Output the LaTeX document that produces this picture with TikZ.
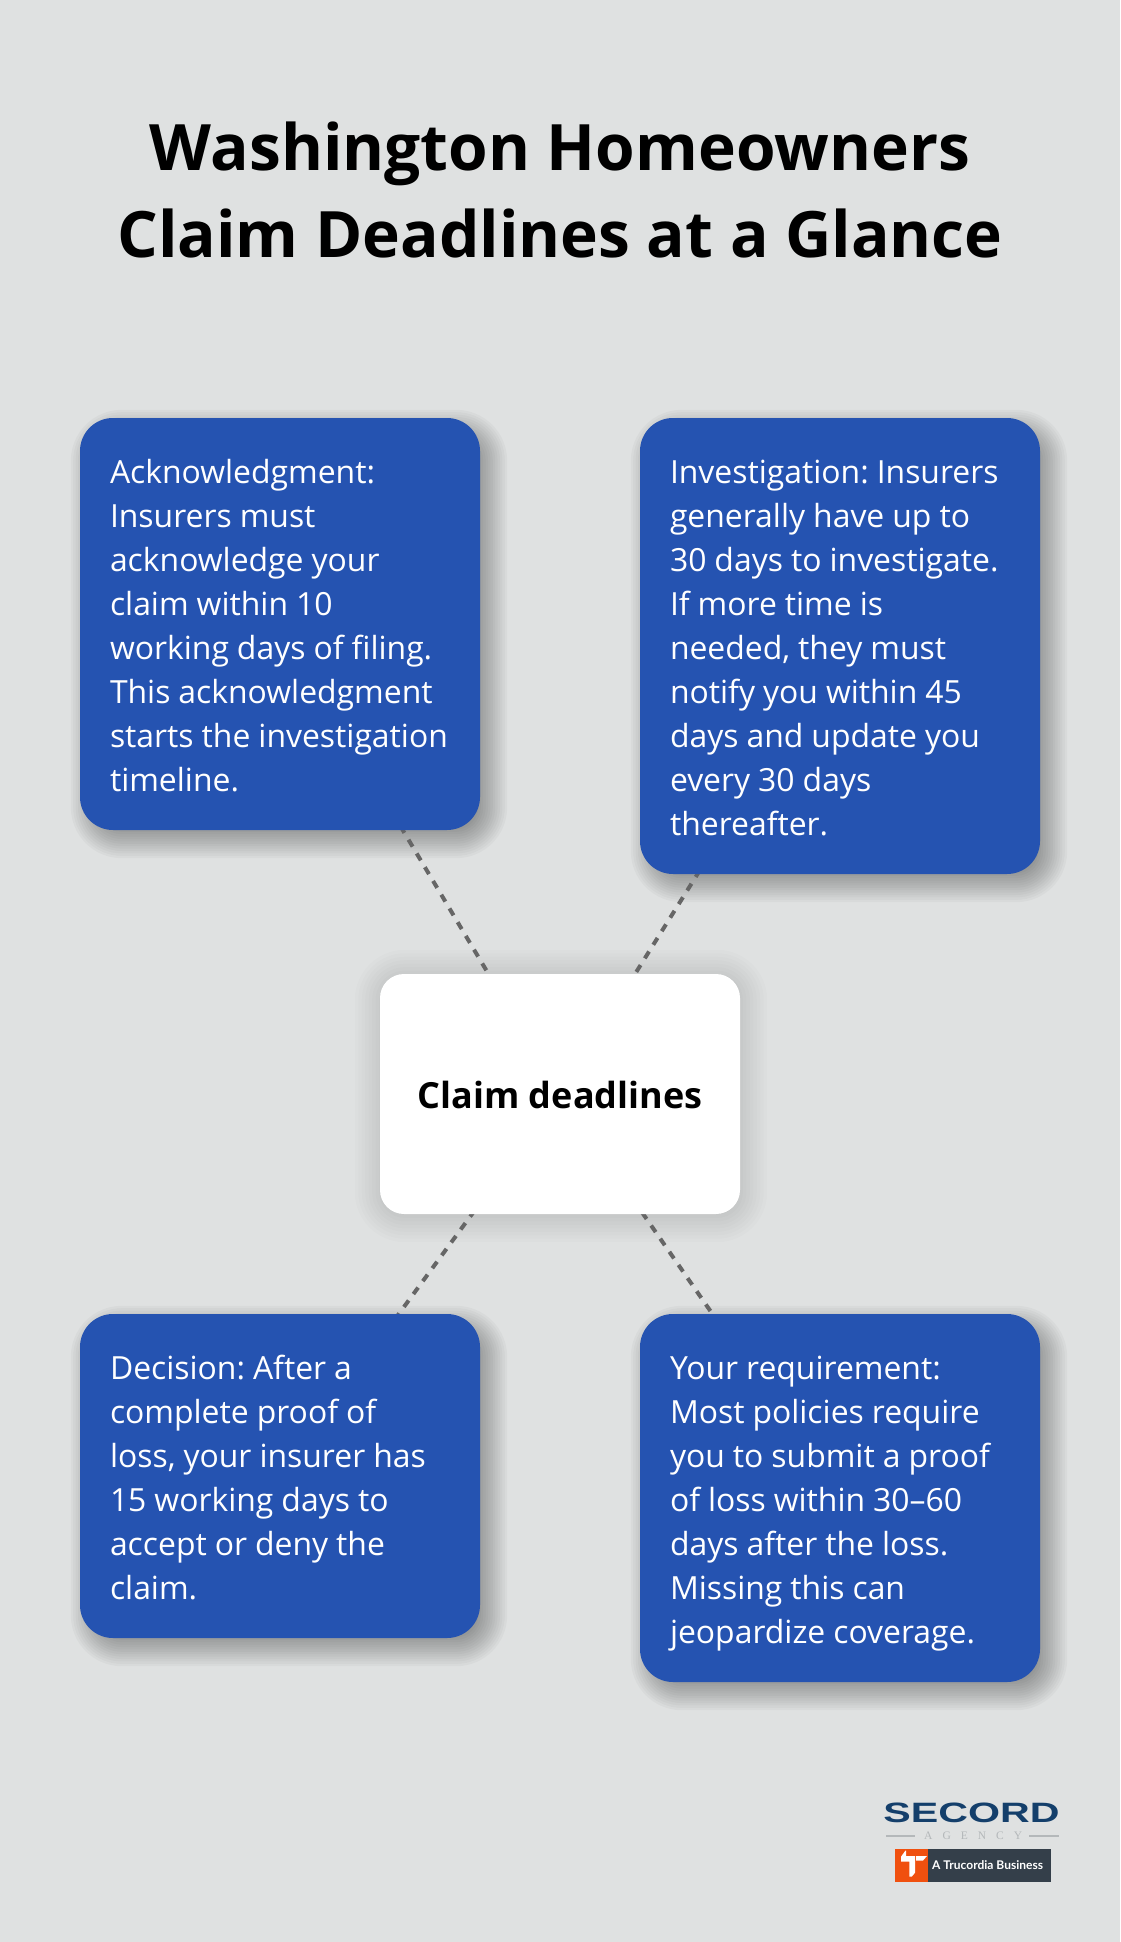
\documentclass[tikz,border=0pt]{standalone}
\usepackage{fontspec}
\setmainfont{Open Sans}
\newfontfamily\logofont{Liberation Sans}
\newfontfamily\agencyfont[LetterSpace=87]{Liberation Serif}
\newfontfamily\badgefont{Lato}
\usetikzlibrary{calc,backgrounds}
\frenchspacing

\definecolor{pagegrey}{HTML}{DFE1E1}
\definecolor{cardblue}{HTML}{2553B1}
\definecolor{linkgrey}{HTML}{666666}
\definecolor{secordblue}{HTML}{143F6B}
\definecolor{agencygrey}{HTML}{B4B8BA}
\definecolor{badgeorange}{HTML}{F0500F}
\definecolor{badgeslate}{HTML}{343F4A}

\tikzset{
	card/.style={fill=cardblue, text=white, rounded corners=33pt, text width=340pt,
		inner xsep=30pt, inner ysep=0pt, align=left, font=\fontsize{31.9}{44}\selectfont,
		execute at begin node={\spaceskip=8pt\rule{0pt}{35.1pt}}, execute at end node={\rule[-8.9pt]{0pt}{8.9pt}}},
	hub/.style={fill=white, text=black, rounded corners=24pt, minimum width=360pt, minimum height=240pt,
		inner sep=0pt, text height=29.4pt, font=\fontsize{36}{44}\selectfont\bfseries},
	link/.style={draw=linkgrey, line width=4pt, dash pattern=on 8pt off 8pt}
}

% soft shadow from stacked translucent boxes
\newcommand{\softshadow}[6]{%
	\foreach \k in {0,...,15} {
		\pgfmathsetmacro\grow{#5*(1-\k/7.5)}
		\pgfmathsetmacro\corner{max(#4+\grow,1)}
		\fill [black, opacity=#6, rounded corners=\corner pt]
			($(#1.north west)+(#2-\grow,#3-\grow)$) rectangle ($(#1.south east)+(#2+\grow,#3+\grow)$);
	}
}

\begin{document}
\begin{tikzpicture}[x=1pt,y=-1pt]
	\useasboundingbox (0,0) rectangle (1120,1942);
	\node (title) [align=center, font=\fontsize{64}{87}\selectfont\bfseries] at (560,190)
		{Washington Homeowners\\Claim Deadlines at a Glance};
	% cards
	\node (ack) [card, minimum height=412pt] at (280,624) {Acknowledgment:\\Insurers must\\acknowledge your\\claim within 10\\working days of filing.\\This acknowledgment\\starts the investigation\\timeline.};
	\node (inv) [card, minimum height=456pt] at (840,646) {Investigation: Insurers\\generally have up to\\30 days to investigate.\\If more time is\\needed, they must\\notify you within 45\\days and update you\\every 30 days\\thereafter.};
	\node (dec) [card, minimum height=324pt] at (280,1476) {Decision: After a\\complete proof of\\loss, your insurer has\\15 working days to\\accept or deny the\\claim.};
	\node (req) [card, minimum height=368pt] at (840,1498) {Your requirement:\\Most policies require\\you to submit a proof\\of loss within 30--60\\days after the loss.\\Missing this can\\jeopardize coverage.};
	\node (hub) [hub] at (560,1094) {Claim deadlines};
	% page, shadows and links go underneath
	\begin{pgfonlayer}{background}
		\fill [pagegrey] (0,0) rectangle (1120,1942);
		\softshadow{ack}{9}{10}{33}{18}{0.026}
		\softshadow{inv}{9}{10}{33}{18}{0.026}
		\softshadow{dec}{9}{10}{33}{18}{0.026}
		\softshadow{req}{9}{10}{33}{18}{0.026}
		\softshadow{hub}{1}{2}{24}{26}{0.012}
		\draw [link] (hub.center) -- (ack.center);
		\draw [link] (hub.center) -- (inv.center);
		\draw [link] (hub.center) -- (dec.center);
		\draw [link] (hub.center) -- (req.center);
	\end{pgfonlayer}
	% logo
	\node (secord) [text=secordblue, xscale=1.47, font=\fontsize{28}{28}\logofont\bfseries] at (971.5,1813) {SECORD};
	\node (agency) [text=agencygrey, anchor=west, inner sep=0pt, font=\fontsize{11.5}{12}\agencyfont] at (924,1836) {AGENCY};
	\draw [agencygrey, line width=1.5pt] (886,1836) -- (915,1836);
	\draw [agencygrey, line width=1.5pt] (1029,1836) -- (1059,1836);
	\node (mark) [fill=badgeorange, minimum size=33pt, inner sep=0pt] at (911.5,1865.5) {};
	\fill [white] (901,1856.7) -- (905.3,1850.7) -- (906,1850.7) -- (906,1856) -- (915,1856) -- (915,1872.7)
		-- (911.7,1876.7) -- (909.3,1876.7) -- (909.3,1861.7) -- (901,1861.7) -- cycle;
	\fill [white] (916,1856) -- (927,1856) -- (923,1860.5) -- (916,1860.5) -- cycle;
	\node (badge) [fill=badgeslate, minimum width=123pt, minimum height=33pt, inner sep=0pt] at (989.5,1865.5) {};
	\node (badgetext) [text=white, anchor=west, inner sep=0pt, font=\fontsize{12}{12}\badgefont\bfseries] at (932,1865.5) {A Trucordia Business};
\end{tikzpicture}
\end{document}
